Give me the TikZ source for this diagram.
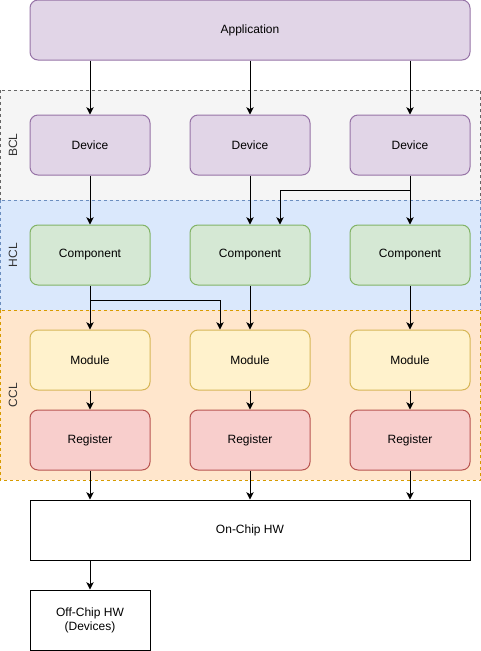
\documentclass[tikz,border=0pt]{standalone}
\usepackage{fontspec}
\setmainfont{Liberation Sans}
\usetikzlibrary{arrows.meta}
\definecolor{appfill}{HTML}{E1D5E7}\definecolor{appline}{HTML}{9673A6}
\definecolor{compfill}{HTML}{D5E8D4}\definecolor{compline}{HTML}{82B366}
\definecolor{modfill}{HTML}{FFF2CC}\definecolor{modline}{HTML}{D6B656}
\definecolor{regfill}{HTML}{F8CECC}\definecolor{regline}{HTML}{B85450}
\definecolor{bclfill}{HTML}{F5F5F5}\definecolor{bclline}{HTML}{666666}
\definecolor{hclfill}{HTML}{DAE8FC}\definecolor{hclline}{HTML}{6C8EBF}
\definecolor{cclfill}{HTML}{FFE6CC}\definecolor{cclline}{HTML}{D79B00}
\begin{document}
\begin{tikzpicture}[x=0.75pt, y=-0.75pt,
  every node/.style={font=\fontsize{9}{10.5}\selectfont, align=center, inner sep=0pt},
  box/.style={rounded corners=6pt, minimum width=90pt, minimum height=45pt, line width=0.75pt},
  dev/.style={box, draw=appline, fill=appfill},
  comp/.style={box, draw=compline, fill=compfill},
  mod/.style={box, draw=modline, fill=modfill},
  reg/.style={box, draw=regline, fill=regfill},
  hw/.style={draw, line width=0.75pt, minimum height=45pt},
  layer/.style={line width=0.75pt, dash pattern=on 2.25pt off 2.25pt},
  layername/.style={rotate=90, text=black!80},
  conn/.style={draw, line width=0.75pt, -{Stealth[length=5.5pt, width=5.5pt, inset=1.5pt]}},
]
\useasboundingbox (0,0) rectangle (481,651);
% layers
\draw[layer, draw=bclline, fill=bclfill] (0.5,90) rectangle (480.5,200);
\draw[layer, draw=hclline, fill=hclfill] (0.5,200) rectangle (480.5,310);
\draw[layer, draw=cclline, fill=cclfill] (0.5,310) rectangle (480.5,480);
\node[layername] (bcl) at (13,145) {BCL};
\node[layername] (hcl) at (13,255) {HCL};
\node[layername] (ccl) at (13,395) {CCL};
% boxes
\node[box, draw=appline, fill=appfill, minimum width=330pt] (app) at (250,30) {Application};
\foreach \i/\x in {1/90, 2/250, 3/410} {
  \node[dev] (dev\i) at (\x,145) {Device};
  \node[comp] (comp\i) at (\x,255) {Component};
  \node[mod] (mod\i) at (\x,360) {Module};
  \node[reg] (reg\i) at (\x,440) {Register};
}
\node[hw, minimum width=330pt] (onchip) at (250,530) {On-Chip HW};
\node[hw, minimum width=90pt] (offchip) at (90,620) {Off-Chip HW\\(Devices)};
% connectors
\foreach \i in {1,2,3} {
  \draw[conn] (app.south -| dev\i) -- (dev\i);
  \draw[conn] (dev\i) -- (comp\i);
  \draw[conn] (comp\i) -- (mod\i);
  \draw[conn] (mod\i) -- (reg\i);
  \draw[conn] (reg\i) -- (onchip.north -| reg\i);
}
\coordinate (devjoin) at (410,190);
\coordinate (compjoin) at (90,300);
\draw[conn] (devjoin) -| ([xshift=22.5pt]comp2.north);
\draw[conn] (compjoin) -| ([xshift=-22.5pt]mod2.north);
\draw[conn] (onchip.south -| offchip) -- (offchip);
\end{tikzpicture}
\end{document}
